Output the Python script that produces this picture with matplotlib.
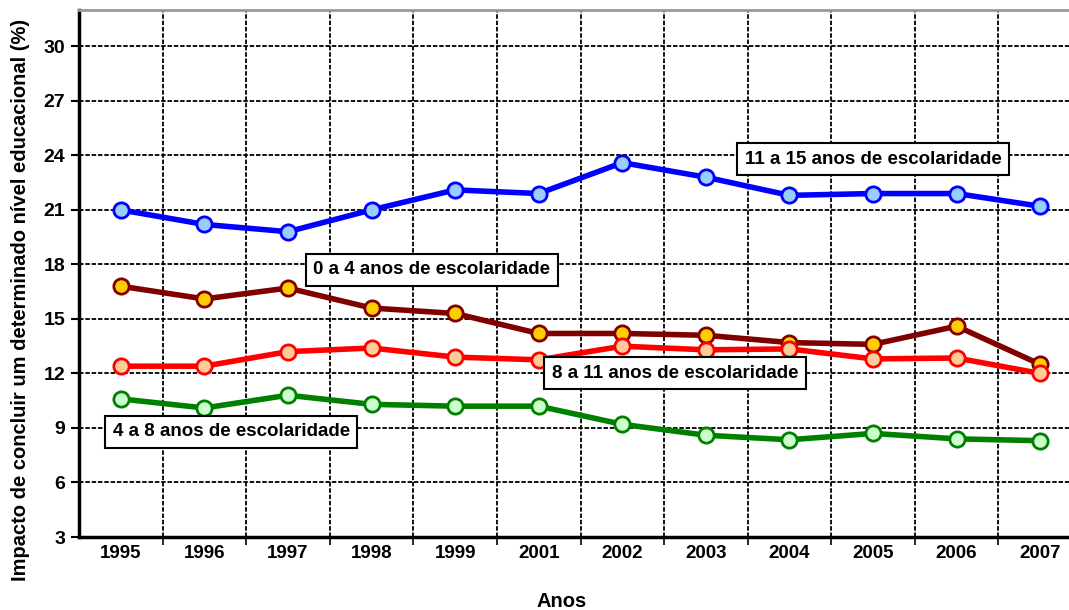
import matplotlib.pyplot as plt
import numpy as np

plt.rcParams["font.family"] = ["Liberation Sans", "DejaVu Sans"]
plt.rcParams["font.weight"] = "bold"

years = ["1995", "1996", "1997", "1998", "1999", "2001", "2002",
         "2003", "2004", "2005", "2006", "2007"]
esc_11_15 = [21.0, 20.2, 19.8, 21.0, 22.1, 21.9, 23.6, 22.8, 21.8, 21.9, 21.9, 21.2]
esc_0_4 = [16.8, 16.1, 16.7, 15.6, 15.3, 14.2, 14.2, 14.1, 13.7, 13.6, 14.6, 12.5]
esc_8_11 = [12.4, 12.4, 13.2, 13.4, 12.9, 12.75, 13.5, 13.3, 13.35, 12.8, 12.85, 12.0]
esc_4_8 = [10.6, 10.1, 10.8, 10.3, 10.2, 10.2, 9.2, 8.6, 8.35, 8.7, 8.4, 8.3]
y_ticks = [3, 6, 9, 12, 15, 18, 21, 24, 27, 30]

series = [
    (esc_11_15, "#0000ff", "#99ccff", "11 a 15 anos de escolaridade", (9.0, 23.8)),
    (esc_0_4, "#800000", "#ffcc00", "0 a 4 anos de escolaridade", (3.72, 17.7)),
    (esc_8_11, "#ff0000", "#ffcc99", "8 a 11 anos de escolaridade", (6.63, 12.0)),
    (esc_4_8, "#008000", "#ccffcc", "4 a 8 anos de escolaridade", (1.32, 8.8)),
]

fig = plt.figure(figsize=(10.69, 6.10), dpi=100)
ax = fig.add_axes([79 / 1069, (610 - 537) / 610, 1003 / 1069, 527 / 610])

x = np.arange(len(years))
for vals, line_c, face_c, label, pos in series:
    ax.plot(x, vals, color=line_c, lw=4, zorder=3, solid_capstyle="round",
            marker="o", ms=11, mfc=face_c, mec=line_c, mew=2)

# text boxes naming each schooling band
for vals, line_c, face_c, label, pos in series:
    ax.text(pos[0], pos[1], label, ha="center", va="center", fontsize=13.5,
            fontweight="bold", zorder=5,
            bbox=dict(boxstyle="square,pad=0.4", fc="white", ec="black", lw=1.5))

ax.set_xlim(-0.5, len(years) - 0.5)
ax.set_ylim(3, 32)
ax.set_yticks(y_ticks)
ax.set_yticklabels([str(v) for v in y_ticks], fontsize=14, fontweight="bold")
ax.set_xticks(x)
ax.set_xticklabels(years, fontsize=13.5, fontweight="bold")
ax.tick_params(axis="x", length=0, pad=6)
ax.set_xticks(np.arange(0.5, len(years) - 0.5), minor=True)
ax.tick_params(axis="x", which="minor", length=6, width=1.2, direction="out")
ax.tick_params(axis="y", length=6, width=1.5, direction="out", pad=4)

ax.grid(axis="y", which="major", color="black", lw=1.3, ls=(0, (2.5, 1)), zorder=1)
ax.grid(axis="x", which="minor", color="black", lw=1.3, ls=(0, (2.5, 1)), zorder=1)

ax.spines["left"].set_linewidth(2.5)
ax.spines["bottom"].set_linewidth(2.5)
ax.spines["top"].set_color("#999999")
ax.spines["top"].set_linewidth(2)
ax.spines["right"].set_visible(False)

ax.set_xlabel("Anos", fontsize=14.5, fontweight="bold")
ax.set_ylabel("Impacto de concluir um determinado nível educacional (%)",
              fontsize=14.5, fontweight="bold")
ax.xaxis.set_label_coords(0.4816, -0.105)
ax.yaxis.set_label_coords(-0.049, 0.4507)

fig.savefig("out.png", dpi=100, facecolor="white")
